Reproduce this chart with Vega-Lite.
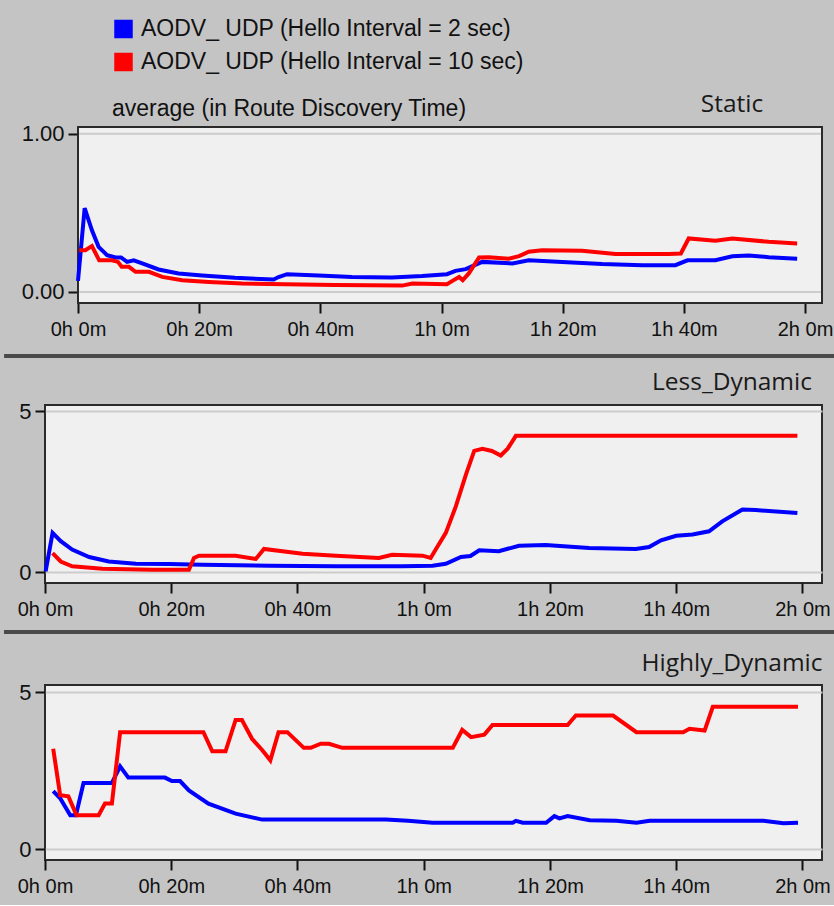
{
  "$schema": "https://vega.github.io/schema/vega-lite/v6.json",
  "background": "#c4c4c4",
  "padding": {"left": 0, "top": 17, "right": 0, "bottom": 8},
  "datasets": {
    "static": [
      {"series": "AODV_ UDP (Hello Interval = 2 sec)", "minute": 0, "value": 0.07},
      {"series": "AODV_ UDP (Hello Interval = 2 sec)", "minute": 1.1, "value": 0.53},
      {"series": "AODV_ UDP (Hello Interval = 2 sec)", "minute": 2.3, "value": 0.39},
      {"series": "AODV_ UDP (Hello Interval = 2 sec)", "minute": 3.4, "value": 0.285},
      {"series": "AODV_ UDP (Hello Interval = 2 sec)", "minute": 4.8, "value": 0.233},
      {"series": "AODV_ UDP (Hello Interval = 2 sec)", "minute": 6.2, "value": 0.218},
      {"series": "AODV_ UDP (Hello Interval = 2 sec)", "minute": 7.1, "value": 0.218},
      {"series": "AODV_ UDP (Hello Interval = 2 sec)", "minute": 8.1, "value": 0.19},
      {"series": "AODV_ UDP (Hello Interval = 2 sec)", "minute": 9.2, "value": 0.2},
      {"series": "AODV_ UDP (Hello Interval = 2 sec)", "minute": 10.6, "value": 0.18},
      {"series": "AODV_ UDP (Hello Interval = 2 sec)", "minute": 13.3, "value": 0.142},
      {"series": "AODV_ UDP (Hello Interval = 2 sec)", "minute": 16.6, "value": 0.117},
      {"series": "AODV_ UDP (Hello Interval = 2 sec)", "minute": 20.5, "value": 0.104},
      {"series": "AODV_ UDP (Hello Interval = 2 sec)", "minute": 25.9, "value": 0.089},
      {"series": "AODV_ UDP (Hello Interval = 2 sec)", "minute": 32.3, "value": 0.079},
      {"series": "AODV_ UDP (Hello Interval = 2 sec)", "minute": 33.1, "value": 0.094},
      {"series": "AODV_ UDP (Hello Interval = 2 sec)", "minute": 34.5, "value": 0.112},
      {"series": "AODV_ UDP (Hello Interval = 2 sec)", "minute": 39.7, "value": 0.104},
      {"series": "AODV_ UDP (Hello Interval = 2 sec)", "minute": 45.2, "value": 0.095},
      {"series": "AODV_ UDP (Hello Interval = 2 sec)", "minute": 51.8, "value": 0.091},
      {"series": "AODV_ UDP (Hello Interval = 2 sec)", "minute": 56.8, "value": 0.1},
      {"series": "AODV_ UDP (Hello Interval = 2 sec)", "minute": 60.9, "value": 0.112},
      {"series": "AODV_ UDP (Hello Interval = 2 sec)", "minute": 62.3, "value": 0.133},
      {"series": "AODV_ UDP (Hello Interval = 2 sec)", "minute": 64, "value": 0.144},
      {"series": "AODV_ UDP (Hello Interval = 2 sec)", "minute": 66.7, "value": 0.19},
      {"series": "AODV_ UDP (Hello Interval = 2 sec)", "minute": 71.7, "value": 0.18},
      {"series": "AODV_ UDP (Hello Interval = 2 sec)", "minute": 74.4, "value": 0.2},
      {"series": "AODV_ UDP (Hello Interval = 2 sec)", "minute": 79.9, "value": 0.19},
      {"series": "AODV_ UDP (Hello Interval = 2 sec)", "minute": 86.5, "value": 0.176},
      {"series": "AODV_ UDP (Hello Interval = 2 sec)", "minute": 93.1, "value": 0.169},
      {"series": "AODV_ UDP (Hello Interval = 2 sec)", "minute": 98.6, "value": 0.169},
      {"series": "AODV_ UDP (Hello Interval = 2 sec)", "minute": 100.6, "value": 0.2},
      {"series": "AODV_ UDP (Hello Interval = 2 sec)", "minute": 105.2, "value": 0.2},
      {"series": "AODV_ UDP (Hello Interval = 2 sec)", "minute": 108, "value": 0.226},
      {"series": "AODV_ UDP (Hello Interval = 2 sec)", "minute": 110.7, "value": 0.23},
      {"series": "AODV_ UDP (Hello Interval = 2 sec)", "minute": 114, "value": 0.22},
      {"series": "AODV_ UDP (Hello Interval = 2 sec)", "minute": 118.7, "value": 0.21},
      {"series": "AODV_ UDP (Hello Interval = 10 sec)", "minute": 0.2, "value": 0.264},
      {"series": "AODV_ UDP (Hello Interval = 10 sec)", "minute": 1.2, "value": 0.264},
      {"series": "AODV_ UDP (Hello Interval = 10 sec)", "minute": 2.3, "value": 0.29},
      {"series": "AODV_ UDP (Hello Interval = 10 sec)", "minute": 3.5, "value": 0.2},
      {"series": "AODV_ UDP (Hello Interval = 10 sec)", "minute": 5.6, "value": 0.2},
      {"series": "AODV_ UDP (Hello Interval = 10 sec)", "minute": 6.6, "value": 0.19},
      {"series": "AODV_ UDP (Hello Interval = 10 sec)", "minute": 7.2, "value": 0.159},
      {"series": "AODV_ UDP (Hello Interval = 10 sec)", "minute": 8.4, "value": 0.159},
      {"series": "AODV_ UDP (Hello Interval = 10 sec)", "minute": 9.5, "value": 0.127},
      {"series": "AODV_ UDP (Hello Interval = 10 sec)", "minute": 11.7, "value": 0.127},
      {"series": "AODV_ UDP (Hello Interval = 10 sec)", "minute": 13.9, "value": 0.095},
      {"series": "AODV_ UDP (Hello Interval = 10 sec)", "minute": 17.2, "value": 0.074},
      {"series": "AODV_ UDP (Hello Interval = 10 sec)", "minute": 21.6, "value": 0.063},
      {"series": "AODV_ UDP (Hello Interval = 10 sec)", "minute": 27.1, "value": 0.053},
      {"series": "AODV_ UDP (Hello Interval = 10 sec)", "minute": 34.2, "value": 0.049},
      {"series": "AODV_ UDP (Hello Interval = 10 sec)", "minute": 42.5, "value": 0.044},
      {"series": "AODV_ UDP (Hello Interval = 10 sec)", "minute": 53.5, "value": 0.04},
      {"series": "AODV_ UDP (Hello Interval = 10 sec)", "minute": 55.2, "value": 0.053},
      {"series": "AODV_ UDP (Hello Interval = 10 sec)", "minute": 60.9, "value": 0.049},
      {"series": "AODV_ UDP (Hello Interval = 10 sec)", "minute": 61.8, "value": 0.07},
      {"series": "AODV_ UDP (Hello Interval = 10 sec)", "minute": 62.9, "value": 0.095},
      {"series": "AODV_ UDP (Hello Interval = 10 sec)", "minute": 63.5, "value": 0.074},
      {"series": "AODV_ UDP (Hello Interval = 10 sec)", "minute": 64.5, "value": 0.117},
      {"series": "AODV_ UDP (Hello Interval = 10 sec)", "minute": 66.2, "value": 0.218},
      {"series": "AODV_ UDP (Hello Interval = 10 sec)", "minute": 67.8, "value": 0.22},
      {"series": "AODV_ UDP (Hello Interval = 10 sec)", "minute": 71.1, "value": 0.21},
      {"series": "AODV_ UDP (Hello Interval = 10 sec)", "minute": 72.8, "value": 0.226},
      {"series": "AODV_ UDP (Hello Interval = 10 sec)", "minute": 74.4, "value": 0.254},
      {"series": "AODV_ UDP (Hello Interval = 10 sec)", "minute": 76.6, "value": 0.264},
      {"series": "AODV_ UDP (Hello Interval = 10 sec)", "minute": 83.2, "value": 0.26},
      {"series": "AODV_ UDP (Hello Interval = 10 sec)", "minute": 88.7, "value": 0.24},
      {"series": "AODV_ UDP (Hello Interval = 10 sec)", "minute": 97.5, "value": 0.24},
      {"series": "AODV_ UDP (Hello Interval = 10 sec)", "minute": 99.5, "value": 0.243},
      {"series": "AODV_ UDP (Hello Interval = 10 sec)", "minute": 100.8, "value": 0.338},
      {"series": "AODV_ UDP (Hello Interval = 10 sec)", "minute": 105.2, "value": 0.323},
      {"series": "AODV_ UDP (Hello Interval = 10 sec)", "minute": 108, "value": 0.338},
      {"series": "AODV_ UDP (Hello Interval = 10 sec)", "minute": 114, "value": 0.317},
      {"series": "AODV_ UDP (Hello Interval = 10 sec)", "minute": 118.7, "value": 0.307}
    ],
    "less": [
      {"series": "AODV_ UDP (Hello Interval = 2 sec)", "minute": 0.1, "value": 0.02},
      {"series": "AODV_ UDP (Hello Interval = 2 sec)", "minute": 1.2, "value": 1.22},
      {"series": "AODV_ UDP (Hello Interval = 2 sec)", "minute": 2.5, "value": 0.96},
      {"series": "AODV_ UDP (Hello Interval = 2 sec)", "minute": 4.3, "value": 0.7},
      {"series": "AODV_ UDP (Hello Interval = 2 sec)", "minute": 7.0, "value": 0.47},
      {"series": "AODV_ UDP (Hello Interval = 2 sec)", "minute": 10.1, "value": 0.33},
      {"series": "AODV_ UDP (Hello Interval = 2 sec)", "minute": 14.4, "value": 0.26},
      {"series": "AODV_ UDP (Hello Interval = 2 sec)", "minute": 19.7, "value": 0.25},
      {"series": "AODV_ UDP (Hello Interval = 2 sec)", "minute": 24.9, "value": 0.23},
      {"series": "AODV_ UDP (Hello Interval = 2 sec)", "minute": 35.5, "value": 0.2},
      {"series": "AODV_ UDP (Hello Interval = 2 sec)", "minute": 46.1, "value": 0.18},
      {"series": "AODV_ UDP (Hello Interval = 2 sec)", "minute": 56.6, "value": 0.18},
      {"series": "AODV_ UDP (Hello Interval = 2 sec)", "minute": 61.4, "value": 0.2},
      {"series": "AODV_ UDP (Hello Interval = 2 sec)", "minute": 63.5, "value": 0.26},
      {"series": "AODV_ UDP (Hello Interval = 2 sec)", "minute": 65.9, "value": 0.47},
      {"series": "AODV_ UDP (Hello Interval = 2 sec)", "minute": 67.4, "value": 0.5},
      {"series": "AODV_ UDP (Hello Interval = 2 sec)", "minute": 68.8, "value": 0.68},
      {"series": "AODV_ UDP (Hello Interval = 2 sec)", "minute": 71.9, "value": 0.65},
      {"series": "AODV_ UDP (Hello Interval = 2 sec)", "minute": 75.1, "value": 0.82},
      {"series": "AODV_ UDP (Hello Interval = 2 sec)", "minute": 79.3, "value": 0.84},
      {"series": "AODV_ UDP (Hello Interval = 2 sec)", "minute": 86.2, "value": 0.75},
      {"series": "AODV_ UDP (Hello Interval = 2 sec)", "minute": 93.6, "value": 0.72},
      {"series": "AODV_ UDP (Hello Interval = 2 sec)", "minute": 95.7, "value": 0.78},
      {"series": "AODV_ UDP (Hello Interval = 2 sec)", "minute": 97.6, "value": 0.99},
      {"series": "AODV_ UDP (Hello Interval = 2 sec)", "minute": 100, "value": 1.13},
      {"series": "AODV_ UDP (Hello Interval = 2 sec)", "minute": 102.6, "value": 1.17},
      {"series": "AODV_ UDP (Hello Interval = 2 sec)", "minute": 105.2, "value": 1.27},
      {"series": "AODV_ UDP (Hello Interval = 2 sec)", "minute": 107.3, "value": 1.58},
      {"series": "AODV_ UDP (Hello Interval = 2 sec)", "minute": 110.5, "value": 1.95},
      {"series": "AODV_ UDP (Hello Interval = 2 sec)", "minute": 112.6, "value": 1.93},
      {"series": "AODV_ UDP (Hello Interval = 2 sec)", "minute": 119.2, "value": 1.84},
      {"series": "AODV_ UDP (Hello Interval = 10 sec)", "minute": 1.2, "value": 0.59},
      {"series": "AODV_ UDP (Hello Interval = 10 sec)", "minute": 2.5, "value": 0.33},
      {"series": "AODV_ UDP (Hello Interval = 10 sec)", "minute": 4.3, "value": 0.18},
      {"series": "AODV_ UDP (Hello Interval = 10 sec)", "minute": 9.1, "value": 0.1},
      {"series": "AODV_ UDP (Hello Interval = 10 sec)", "minute": 17.0, "value": 0.07},
      {"series": "AODV_ UDP (Hello Interval = 10 sec)", "minute": 22.8, "value": 0.07},
      {"series": "AODV_ UDP (Hello Interval = 10 sec)", "minute": 23.6, "value": 0.44},
      {"series": "AODV_ UDP (Hello Interval = 10 sec)", "minute": 24.4, "value": 0.51},
      {"series": "AODV_ UDP (Hello Interval = 10 sec)", "minute": 30.2, "value": 0.51},
      {"series": "AODV_ UDP (Hello Interval = 10 sec)", "minute": 33.4, "value": 0.41},
      {"series": "AODV_ UDP (Hello Interval = 10 sec)", "minute": 34.7, "value": 0.72},
      {"series": "AODV_ UDP (Hello Interval = 10 sec)", "minute": 40.8, "value": 0.57},
      {"series": "AODV_ UDP (Hello Interval = 10 sec)", "minute": 46.1, "value": 0.51},
      {"series": "AODV_ UDP (Hello Interval = 10 sec)", "minute": 52.9, "value": 0.44},
      {"series": "AODV_ UDP (Hello Interval = 10 sec)", "minute": 55.0, "value": 0.54},
      {"series": "AODV_ UDP (Hello Interval = 10 sec)", "minute": 59.8, "value": 0.51},
      {"series": "AODV_ UDP (Hello Interval = 10 sec)", "minute": 61.1, "value": 0.44},
      {"series": "AODV_ UDP (Hello Interval = 10 sec)", "minute": 61.9, "value": 0.7},
      {"series": "AODV_ UDP (Hello Interval = 10 sec)", "minute": 63.5, "value": 1.22},
      {"series": "AODV_ UDP (Hello Interval = 10 sec)", "minute": 65.1, "value": 2.05},
      {"series": "AODV_ UDP (Hello Interval = 10 sec)", "minute": 66.7, "value": 3.04},
      {"series": "AODV_ UDP (Hello Interval = 10 sec)", "minute": 68.0, "value": 3.77},
      {"series": "AODV_ UDP (Hello Interval = 10 sec)", "minute": 69.3, "value": 3.84},
      {"series": "AODV_ UDP (Hello Interval = 10 sec)", "minute": 70.8, "value": 3.77},
      {"series": "AODV_ UDP (Hello Interval = 10 sec)", "minute": 72.2, "value": 3.63},
      {"series": "AODV_ UDP (Hello Interval = 10 sec)", "minute": 73.3, "value": 3.84},
      {"series": "AODV_ UDP (Hello Interval = 10 sec)", "minute": 74.6, "value": 4.24},
      {"series": "AODV_ UDP (Hello Interval = 10 sec)", "minute": 119.2, "value": 4.24}
    ],
    "highly": [
      {"series": "AODV_ UDP (Hello Interval = 2 sec)", "minute": 1.3, "value": 1.85},
      {"series": "AODV_ UDP (Hello Interval = 2 sec)", "minute": 2.4, "value": 1.62},
      {"series": "AODV_ UDP (Hello Interval = 2 sec)", "minute": 4.0, "value": 1.08},
      {"series": "AODV_ UDP (Hello Interval = 2 sec)", "minute": 4.9, "value": 1.08},
      {"series": "AODV_ UDP (Hello Interval = 2 sec)", "minute": 6.1, "value": 2.11},
      {"series": "AODV_ UDP (Hello Interval = 2 sec)", "minute": 10.6, "value": 2.11},
      {"series": "AODV_ UDP (Hello Interval = 2 sec)", "minute": 11.9, "value": 2.64},
      {"series": "AODV_ UDP (Hello Interval = 2 sec)", "minute": 13.2, "value": 2.28},
      {"series": "AODV_ UDP (Hello Interval = 2 sec)", "minute": 19.0, "value": 2.28},
      {"series": "AODV_ UDP (Hello Interval = 2 sec)", "minute": 20.1, "value": 2.17},
      {"series": "AODV_ UDP (Hello Interval = 2 sec)", "minute": 21.4, "value": 2.17},
      {"series": "AODV_ UDP (Hello Interval = 2 sec)", "minute": 22.8, "value": 1.87},
      {"series": "AODV_ UDP (Hello Interval = 2 sec)", "minute": 25.9, "value": 1.45},
      {"series": "AODV_ UDP (Hello Interval = 2 sec)", "minute": 30.2, "value": 1.13},
      {"series": "AODV_ UDP (Hello Interval = 2 sec)", "minute": 34.4, "value": 0.94},
      {"series": "AODV_ UDP (Hello Interval = 2 sec)", "minute": 54.0, "value": 0.94},
      {"series": "AODV_ UDP (Hello Interval = 2 sec)", "minute": 57.5, "value": 0.9},
      {"series": "AODV_ UDP (Hello Interval = 2 sec)", "minute": 61.4, "value": 0.84},
      {"series": "AODV_ UDP (Hello Interval = 2 sec)", "minute": 74.1, "value": 0.84},
      {"series": "AODV_ UDP (Hello Interval = 2 sec)", "minute": 74.6, "value": 0.9},
      {"series": "AODV_ UDP (Hello Interval = 2 sec)", "minute": 75.7, "value": 0.84},
      {"series": "AODV_ UDP (Hello Interval = 2 sec)", "minute": 79.4, "value": 0.84},
      {"series": "AODV_ UDP (Hello Interval = 2 sec)", "minute": 80.7, "value": 1.05},
      {"series": "AODV_ UDP (Hello Interval = 2 sec)", "minute": 81.5, "value": 0.98},
      {"series": "AODV_ UDP (Hello Interval = 2 sec)", "minute": 82.8, "value": 1.05},
      {"series": "AODV_ UDP (Hello Interval = 2 sec)", "minute": 86.3, "value": 0.92},
      {"series": "AODV_ UDP (Hello Interval = 2 sec)", "minute": 90.5, "value": 0.9},
      {"series": "AODV_ UDP (Hello Interval = 2 sec)", "minute": 93.7, "value": 0.84},
      {"series": "AODV_ UDP (Hello Interval = 2 sec)", "minute": 95.8, "value": 0.9},
      {"series": "AODV_ UDP (Hello Interval = 2 sec)", "minute": 113.8, "value": 0.9},
      {"series": "AODV_ UDP (Hello Interval = 2 sec)", "minute": 117, "value": 0.82},
      {"series": "AODV_ UDP (Hello Interval = 2 sec)", "minute": 119.3, "value": 0.84},
      {"series": "AODV_ UDP (Hello Interval = 10 sec)", "minute": 1.3, "value": 3.2},
      {"series": "AODV_ UDP (Hello Interval = 10 sec)", "minute": 2.4, "value": 1.72},
      {"series": "AODV_ UDP (Hello Interval = 10 sec)", "minute": 3.7, "value": 1.68},
      {"series": "AODV_ UDP (Hello Interval = 10 sec)", "minute": 5.0, "value": 1.08},
      {"series": "AODV_ UDP (Hello Interval = 10 sec)", "minute": 8.5, "value": 1.08},
      {"series": "AODV_ UDP (Hello Interval = 10 sec)", "minute": 9.5, "value": 1.45},
      {"series": "AODV_ UDP (Hello Interval = 10 sec)", "minute": 10.6, "value": 1.45},
      {"series": "AODV_ UDP (Hello Interval = 10 sec)", "minute": 11.9, "value": 3.73},
      {"series": "AODV_ UDP (Hello Interval = 10 sec)", "minute": 25.1, "value": 3.73},
      {"series": "AODV_ UDP (Hello Interval = 10 sec)", "minute": 26.5, "value": 3.12},
      {"series": "AODV_ UDP (Hello Interval = 10 sec)", "minute": 28.6, "value": 3.12},
      {"series": "AODV_ UDP (Hello Interval = 10 sec)", "minute": 30.2, "value": 4.12},
      {"series": "AODV_ UDP (Hello Interval = 10 sec)", "minute": 31.2, "value": 4.12},
      {"series": "AODV_ UDP (Hello Interval = 10 sec)", "minute": 32.8, "value": 3.52},
      {"series": "AODV_ UDP (Hello Interval = 10 sec)", "minute": 34.4, "value": 3.16},
      {"series": "AODV_ UDP (Hello Interval = 10 sec)", "minute": 35.7, "value": 2.83},
      {"series": "AODV_ UDP (Hello Interval = 10 sec)", "minute": 37.0, "value": 3.73},
      {"series": "AODV_ UDP (Hello Interval = 10 sec)", "minute": 38.4, "value": 3.73},
      {"series": "AODV_ UDP (Hello Interval = 10 sec)", "minute": 41.0, "value": 3.23},
      {"series": "AODV_ UDP (Hello Interval = 10 sec)", "minute": 42.1, "value": 3.23},
      {"series": "AODV_ UDP (Hello Interval = 10 sec)", "minute": 43.7, "value": 3.36},
      {"series": "AODV_ UDP (Hello Interval = 10 sec)", "minute": 45.0, "value": 3.36},
      {"series": "AODV_ UDP (Hello Interval = 10 sec)", "minute": 47.1, "value": 3.23},
      {"series": "AODV_ UDP (Hello Interval = 10 sec)", "minute": 64.6, "value": 3.23},
      {"series": "AODV_ UDP (Hello Interval = 10 sec)", "minute": 66.1, "value": 3.8},
      {"series": "AODV_ UDP (Hello Interval = 10 sec)", "minute": 67.5, "value": 3.57},
      {"series": "AODV_ UDP (Hello Interval = 10 sec)", "minute": 69.6, "value": 3.65},
      {"series": "AODV_ UDP (Hello Interval = 10 sec)", "minute": 70.9, "value": 3.96},
      {"series": "AODV_ UDP (Hello Interval = 10 sec)", "minute": 82.8, "value": 3.96},
      {"series": "AODV_ UDP (Hello Interval = 10 sec)", "minute": 84.1, "value": 4.26},
      {"series": "AODV_ UDP (Hello Interval = 10 sec)", "minute": 90.0, "value": 4.26},
      {"series": "AODV_ UDP (Hello Interval = 10 sec)", "minute": 93.7, "value": 3.73},
      {"series": "AODV_ UDP (Hello Interval = 10 sec)", "minute": 101.1, "value": 3.73},
      {"series": "AODV_ UDP (Hello Interval = 10 sec)", "minute": 102.1, "value": 3.84},
      {"series": "AODV_ UDP (Hello Interval = 10 sec)", "minute": 104.5, "value": 3.78},
      {"series": "AODV_ UDP (Hello Interval = 10 sec)", "minute": 105.8, "value": 4.54},
      {"series": "AODV_ UDP (Hello Interval = 10 sec)", "minute": 119.3, "value": 4.54}
    ]
  },
  "bounds": "flush",
  "spacing": 102,
  "vconcat": [
    {
      "width": 777,
      "height": 176,
      "title": "Static",
      "view": {"fill": null, "stroke": null},
      "layer": [
        {
          "data": {"values": [{}]},
          "mark": {"type": "rect", "fill": "#f0f0f0", "stroke": "#2a2a2a", "strokeWidth": 2},
          "encoding": {
            "x": {"datum": 0, "type": "quantitative",
                  "scale": {"domain": [0, 122.8], "range": [33, 777], "nice": false, "zero": false},
                  "axis": {"values": [0, 20, 40, 60, 80, 100, 120], "labelExpr": "floor(datum.value / 60) + 'h ' + (datum.value % 60) + 'm'"}},
            "x2": {"datum": 122.8},
            "y": {"datum": -0.07, "type": "quantitative",
                  "scale": {"domain": [-0.07, 1.043], "nice": false, "zero": false},
                  "axis": {"values": [0, 1], "format": ".2f", "offset": -33, "grid": false}},
            "y2": {"datum": 1.043}
          }
        },
        {
          "data": {"values": [{}]},
          "mark": {"type": "rule", "stroke": "#cccccc", "strokeWidth": 2},
          "encoding": {"x": {"datum": 0.2, "type": "quantitative"}, "x2": {"datum": 122.6}, "y": {"datum": 0, "type": "quantitative"}}
        },
        {
          "data": {"values": [{}]},
          "mark": {"type": "rule", "stroke": "#cccccc", "strokeWidth": 2},
          "encoding": {"x": {"datum": 0.2, "type": "quantitative"}, "x2": {"datum": 122.6}, "y": {"datum": 1, "type": "quantitative"}}
        },
        {
          "data": {"name": "static"},
          "mark": {"type": "line", "strokeWidth": 4},
          "encoding": {
            "x": {"field": "minute", "type": "quantitative"},
            "y": {"field": "value", "type": "quantitative"},
            "color": {"field": "series", "type": "nominal", "title": "average (in Route Discovery Time)",
                      "scale": {"domain": ["AODV_ UDP (Hello Interval = 2 sec)", "AODV_ UDP (Hello Interval = 10 sec)"], "range": ["#0000ff", "#ff0000"]},
                      "legend": {"symbolStrokeColor": "#000000", "symbolStrokeWidth": 1.5,
                                 "encode": {"symbols": {"update": {"fill": {"scale": "color", "field": "value"}, "stroke": {"value": "#000000"}, "strokeWidth": {"value": 1.5}, "opacity": {"value": 1}, "fillOpacity": {"value": 1}}}}}}
          }
        },
        {
          "data": {"values": [{}]},
          "mark": {"type": "rule", "stroke": "#4a4a4a", "strokeWidth": 4},
          "encoding": {"x": {"datum": -12.2, "type": "quantitative"}, "x2": {"datum": 124.8}, "y": {"datum": -0.405, "type": "quantitative"}}
        }
      ]
    },
    {
      "width": 777,
      "height": 178,
      "title": "Less_Dynamic",
      "layer": [
        {
          "data": {"name": "less"},
          "mark": {"type": "line", "strokeWidth": 4},
          "encoding": {
            "x": {"field": "minute", "type": "quantitative",
                  "scale": {"domain": [0, 123.1], "nice": false, "zero": false},
                  "axis": {"values": [0, 20, 40, 60, 80, 100, 120], "labelExpr": "floor(datum.value / 60) + 'h ' + (datum.value % 60) + 'm'"}},
            "y": {"field": "value", "type": "quantitative",
                  "scale": {"domain": [-0.34, 5.2], "nice": false, "zero": false},
                  "axis": {"values": [0, 5], "format": "d", "grid": true}},
            "color": {"field": "series", "type": "nominal", "title": "average (in Route Discovery Time)"}
          }
        },
        {
          "data": {"values": [{}]},
          "mark": {"type": "rule", "stroke": "#4a4a4a", "strokeWidth": 4},
          "encoding": {"x": {"datum": -6.5, "type": "quantitative"}, "x2": {"datum": 125.0}, "y": {"datum": -1.865, "type": "quantitative"}}
        }
      ]
    },
    {
      "width": 777,
      "height": 175,
      "title": "Highly_Dynamic",
      "data": {"name": "highly"},
      "mark": {"type": "line", "strokeWidth": 4},
      "encoding": {
        "x": {"field": "minute", "type": "quantitative",
              "scale": {"domain": [0, 123.1], "nice": false, "zero": false},
              "axis": {"values": [0, 20, 40, 60, 80, 100, 120], "labelExpr": "floor(datum.value / 60) + 'h ' + (datum.value % 60) + 'm'"}},
        "y": {"field": "value", "type": "quantitative",
              "scale": {"domain": [-0.35, 5.235], "nice": false, "zero": false},
              "axis": {"values": [0, 5], "format": "d", "grid": true}},
        "color": {"field": "series", "type": "nominal", "title": "average (in Route Discovery Time)"}
      }
    }
  ],
  "config": {
    "view": {"fill": "#f0f0f0", "stroke": "#2a2a2a", "strokeWidth": 2},
    "axis": {
      "labelFont": "Liberation Sans", "labelFontSize": 22, "labelColor": "#111111",
      "tickColor": "#111111", "tickWidth": 2, "tickSize": 10,
      "domain": false, "title": null, "labelFlush": false, "labelOverlap": false, "labelBound": false,
      "gridColor": "#cccccc", "gridWidth": 2
    },
    "axisX": {"grid": false, "labelPadding": 6, "labelFontSize": 20},
    "axisY": {"labelPadding": 4},
    "title": {"font": "Open Sans", "fontSize": 24.5, "fontWeight": "normal", "color": "#1a1a1a",
              "anchor": "middle", "frame": "group", "dx": 298.5, "baseline": "alphabetic", "offset": 5},
    "legend": {
      "orient": "none", "legendX": 67, "legendY": -109.5, "direction": "vertical",
      "symbolType": "square", "symbolSize": 289, "symbolStrokeColor": "#000000", "symbolStrokeWidth": 1.5,
      "labelFont": "Liberation Sans", "labelFontSize": 23, "labelColor": "#111111", "labelOffset": 6, "labelLimit": 700,
      "rowPadding": 9, "padding": 0,
      "titleOrient": "bottom", "titleAnchor": "start", "titleFont": "Liberation Sans", "titleFontSize": 23,
      "titleFontWeight": "normal", "titleColor": "#111111", "titlePadding": 23, "titleLimit": 800
    }
  }
}
